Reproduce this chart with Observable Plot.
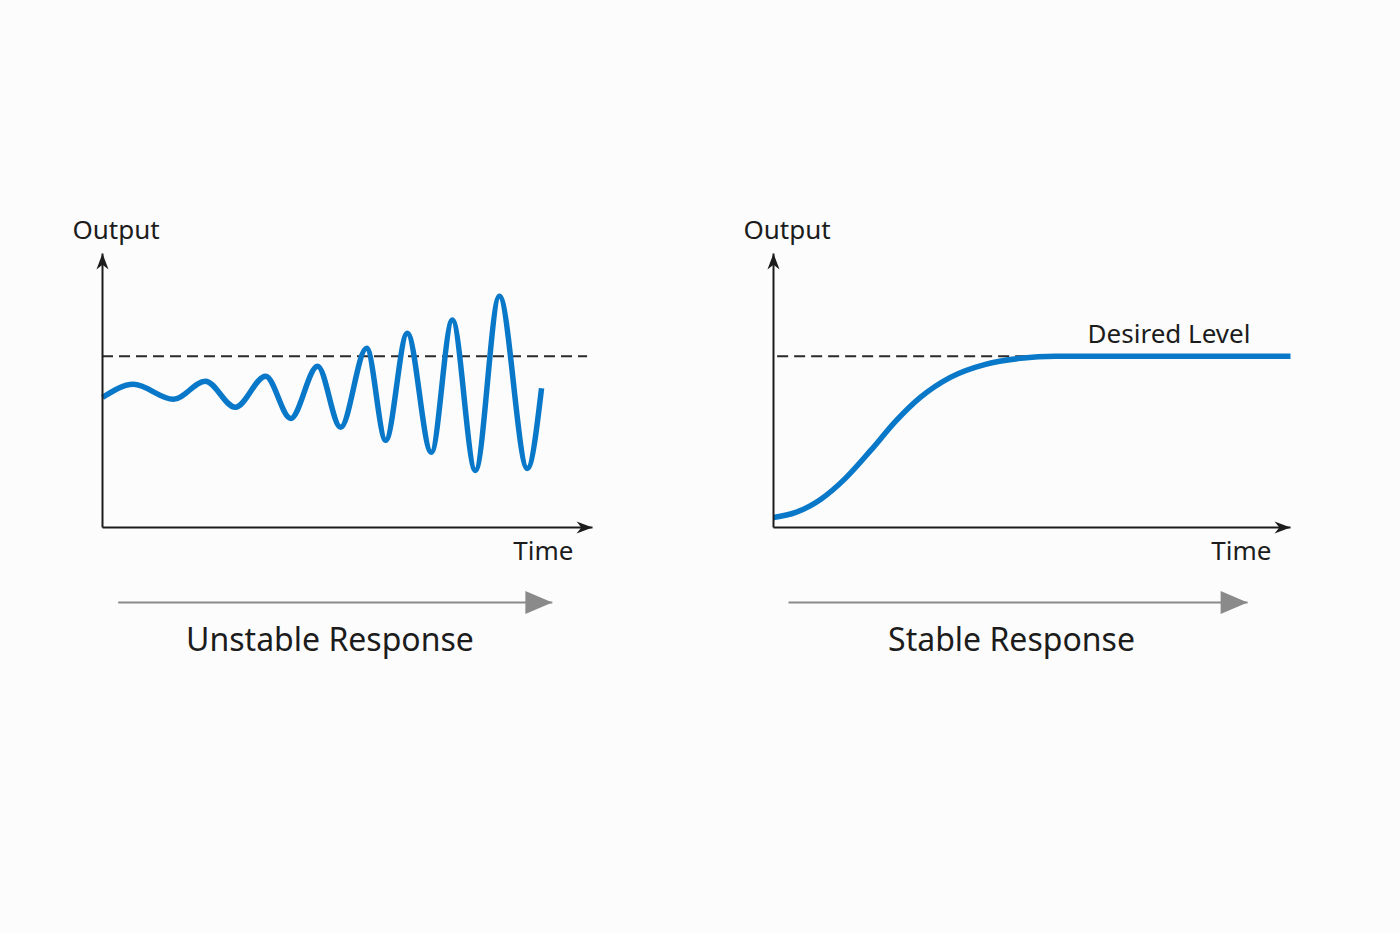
<!DOCTYPE html>
<html>
<head>
<meta charset="utf-8">
<script src="https://cdn.jsdelivr.net/npm/d3@7"></script>
<script src="https://cdn.jsdelivr.net/npm/@observablehq/plot@0.6"></script>
<style>
  html, body { margin: 0; padding: 0; background: #fcfcfc; }
  #wrap { position: relative; width: 1400px; height: 933px; display: flex; }
  #wrap > div { width: 700px; height: 933px; }
  svg { overflow: visible; }
</style>
</head>
<body>
<div id="wrap"><div id="left"></div><div id="right"></div></div>
<script>
// ---------------- data ----------------
const unstableTime   = [0, 0.63, 1.45, 2.10, 2.71, 3.33, 3.84, 4.39, 4.86, 5.39, 5.78, 6.22, 6.71, 7.14, 7.61, 8.10, 8.67, 8.96];
const unstableOutput = [0.76, 0.836, 0.749, 0.854, 0.702, 0.883, 0.637, 0.942, 0.585, 1.047, 0.509, 1.135, 0.439, 1.211, 0.333, 1.351, 0.345, 0.813];
const stableTime     = [0, 0.43, 0.91, 1.39, 1.88, 2.36, 2.84, 3.42, 4.10, 4.78, 5.45, 10];
const stableOutput   = [0.058, 0.088, 0.164, 0.287, 0.45, 0.62, 0.76, 0.877, 0.953, 0.988, 1, 1];
const desiredLevel   = 1;
const panelTitles    = ["Unstable Response", "Stable Response"];
const xLabel         = "Time";
const yLabel         = "Output";
const desiredLabel   = "Desired Level";
const timeDomain     = [0, 10];
const outputDomain   = [0, 1.6];

// ---------------- symbols ----------------
const dart = { draw(ctx, size) { const L = Math.sqrt(size);
  ctx.moveTo(0, 0); ctx.lineTo(0.38 * L, L); ctx.lineTo(0, 0.7 * L); ctx.lineTo(-0.38 * L, L); ctx.closePath(); } };
const tri = { draw(ctx, size) { const L = Math.sqrt(size);
  ctx.moveTo(0, 0); ctx.lineTo(0.43 * L, L); ctx.lineTo(-0.43 * L, L); ctx.closePath(); } };

const INK = "#1c1c1c", BLUE = "#0a78c8", GREY = "#8a8a8a";
const W = 700, H = 700, AXIS_Y = 527, AXIS_TOP = 253;

function panel(cfg) {
  const rows = cfg.time.map((t, i) => ({time: t, output: cfg.output[i]}));
  const marks = [
    Plot.ruleY([desiredLevel], {x1: cfg.dashStart, x2: cfg.dashEnd, stroke: "#2a2a2a", strokeWidth: 2.2, strokeDasharray: "11,6"}),
    Plot.line(rows, {x: "time", y: "output", curve: "monotone-x", stroke: BLUE, strokeWidth: 5.5, strokeLinecap: "butt"}),
    // axes
    Plot.link([0], {x1: timeDomain[0], y1: outputDomain[0], x2: timeDomain[0], y2: outputDomain[1], stroke: INK, strokeWidth: 2}),
    Plot.link([0], {x1: timeDomain[0], y1: outputDomain[0], x2: timeDomain[1], y2: outputDomain[0], stroke: INK, strokeWidth: 2}),
    Plot.dot([0], {x: timeDomain[0], y: outputDomain[1], symbol: dart, r: 9, fill: INK, stroke: "none"}),
    Plot.dot([0], {x: timeDomain[1], y: outputDomain[0], symbol: dart, r: 9, rotate: 90, fill: INK, stroke: "none"}),
    // gray time arrow
    Plot.link([0], {x1: cfg.arrowStart, y1: outputDomain[0], x2: cfg.arrowEnd, y2: outputDomain[0], dy: 75, stroke: GREY, strokeWidth: 2.2}),
    Plot.dot([0], {x: cfg.arrowEnd, y: outputDomain[0], dy: 75, symbol: tri, r: 15.2, rotate: 90, fill: GREY, stroke: "none"}),
    // labels
    Plot.text([yLabel], {text: d => d, frameAnchor: "top-left", textAnchor: "start", lineAnchor: "bottom", dx: -30, dy: -15, fontSize: 26, fill: INK}),
    Plot.text([xLabel], {text: d => d, frameAnchor: "bottom-right", textAnchor: "end", lineAnchor: "bottom", dx: -19, dy: 32, fontSize: 26, fill: INK}),
    Plot.text([cfg.title], {text: d => d, frameAnchor: "bottom", textAnchor: "middle", lineAnchor: "bottom", dx: cfg.titleDx, dy: 123, fontSize: 32, fill: INK})
  ];
  if (cfg.desired) {
    marks.push(Plot.text([desiredLabel], {text: d => d, x: cfg.desiredX, y: desiredLevel, textAnchor: "middle", lineAnchor: "bottom", dy: -13, fontSize: 26, fill: INK}));
  }
  return Plot.plot({
    width: W, height: H,
    marginTop: AXIS_TOP, marginBottom: H - AXIS_Y,
    marginLeft: cfg.marginLeft, marginRight: cfg.marginRight,
    x: {domain: timeDomain, axis: null},
    y: {domain: outputDomain, axis: null},
    style: {fontFamily: "'Noto Sans', 'Open Sans', sans-serif", background: "transparent", overflow: "visible"},
    marks
  });
}

document.getElementById("left").append(panel({
  time: unstableTime, output: unstableOutput, title: panelTitles[0],
  marginLeft: 102, marginRight: 108, dashStart: 0, dashEnd: 9.9,
  arrowStart: 0.32, arrowEnd: 9.18, titleDx: -17.5, desired: false
}));
document.getElementById("right").append(panel({
  time: stableTime, output: stableOutput, title: panelTitles[1],
  marginLeft: 73, marginRight: 110, dashStart: 0.08, dashEnd: 6,
  arrowStart: 0.29, arrowEnd: 9.17, titleDx: -20.5, desired: true, desiredX: 7.65
}));
</script>
</body>
</html>
